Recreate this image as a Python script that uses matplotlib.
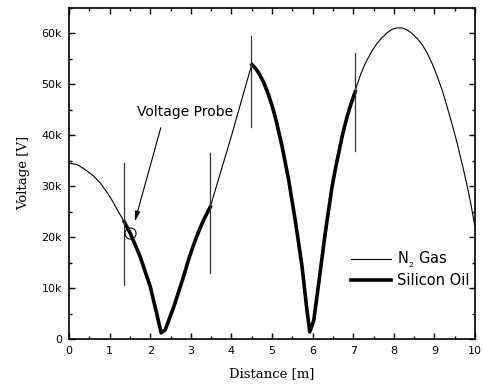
import numpy as np
import matplotlib
matplotlib.use("Agg")
import matplotlib.pyplot as plt
from matplotlib.ticker import MultipleLocator, FuncFormatter

plt.rcParams['font.family'] = ['DejaVu Sans']
plt.rcParams['mathtext.fontset'] = 'dejavusans'
plt.rcParams['mathtext.default'] = 'regular'

# N2 gas (thin) segments, values in kV
n2_x1 = [0.0, 0.2, 0.4, 0.6, 0.77, 0.95, 1.09, 1.22, 1.36]
n2_y1 = [34.5, 34.2, 33.2, 32.0, 30.6, 28.6, 26.8, 24.9, 23.0]
n2_x2 = [3.48, 4.0, 4.5]
n2_y2 = [25.9, 39.8, 53.8]
n2_x3 = [7.05, 7.08, 7.2, 7.30, 7.45, 7.59, 7.7, 7.83, 7.95, 8.08, 8.2, 8.33, 8.45, 8.57,
         8.7, 8.82, 8.95, 9.07, 9.2, 9.31, 9.45, 9.56, 9.7, 9.81, 9.9, 9.99]
n2_y3 = [48.5, 49.5, 52.2, 54.1, 56.3, 58.0, 59.0, 60.0, 60.7, 61.0, 61.0, 60.6, 59.9, 59.0,
         57.7, 56.1, 53.9, 51.5, 48.6, 45.6, 41.7, 38.4, 33.8, 29.9, 26.4, 22.4]

# Silicon oil (thick) segments, values in kV
oil_x1 = [1.36, 1.51, 1.75, 2.0, 2.16, 2.27, 2.37, 2.58, 2.82, 2.95, 3.07, 3.2, 3.32, 3.48]
oil_y1 = [23.0, 20.7, 16.2, 10.3, 5.0, 1.2, 1.8, 6.3, 12.2, 15.7, 18.5, 21.2, 23.4, 25.9]
oil_x2 = [4.505, 4.6, 4.7, 4.8, 4.9, 5.0, 5.1, 5.25, 5.41, 5.57, 5.74, 5.86, 5.93,
          6.03, 6.15, 6.31, 6.48, 6.56, 6.64, 6.75, 6.85, 6.95, 7.05]
oil_y2 = [53.8, 53.0, 51.8, 50.2, 48.2, 45.8, 42.9, 37.7, 31.2, 23.4, 14.2, 5.7, 1.4,
          3.7, 10.9, 20.7, 29.9, 33.3, 36.4, 40.5, 43.6, 46.2, 48.5]

# Probe markers (x, ymin, ymax) in kV
probe_x = [1.36, 3.47, 4.49, 7.04]
probe_lo = [10.5, 12.9, 41.5, 36.9]
probe_hi = [34.5, 36.4, 59.5, 56.1]

circle_xy = (1.5, 20.8)

fig = plt.figure(figsize=(4.85, 3.87), dpi=100)
ax = fig.add_axes([69/485, 1-339/387, (475-69)/485, (339-7.5)/387])

k = 1000
ax.plot(n2_x1, np.array(n2_y1)*k, color='black', lw=0.8, label=r'N$_{_2}$ Gas')
ax.plot(n2_x2, np.array(n2_y2)*k, color='black', lw=0.8)
ax.plot(n2_x3, np.array(n2_y3)*k, color='black', lw=0.8)
ax.plot(oil_x1, np.array(oil_y1)*k, color='black', lw=2.6, label='Silicon Oil',
        solid_joinstyle='round')
ax.plot(oil_x2, np.array(oil_y2)*k, color='black', lw=2.6, solid_joinstyle='round')

for px, lo, hi in zip(probe_x, probe_lo, probe_hi):
    ax.plot([px, px], [lo*k, hi*k], color='#333333', lw=0.9)

ax.plot([circle_xy[0]], [circle_xy[1]*k], marker='o', ms=8, mfc='none', mec='black', mew=0.8)

ax.annotate('', xy=(1.62, 23000), xytext=(2.26, 41400),
            arrowprops=dict(arrowstyle='-|>,head_width=0.15,head_length=0.6', color='black', lw=0.8,
                            shrinkA=0, shrinkB=0))
ax.text(2.87, 44550, 'Voltage Probe', fontsize=10, ha='center', va='center')

ax.set_xlim(0, 10)
ax.set_ylim(0, 65000)
ax.xaxis.set_major_locator(MultipleLocator(1))
ax.xaxis.set_minor_locator(MultipleLocator(0.5))
ax.yaxis.set_major_locator(MultipleLocator(10000))
ax.yaxis.set_minor_locator(MultipleLocator(5000))
ax.yaxis.set_major_formatter(FuncFormatter(lambda v, p: '0' if v == 0 else f'{int(v/1000)}k'))
ax.tick_params(which='both', direction='in', top=True, right=True, labelsize=8, width=1)
ax.tick_params(which='major', length=4, pad=5)
ax.tick_params(which='minor', length=2.5)
for s in ax.spines.values():
    s.set_linewidth(1.2)

ax.set_xlabel('Distance [m]', fontfamily='DejaVu Serif', fontsize=9.5, labelpad=8)
ax.set_ylabel('Voltage [V]', fontfamily='DejaVu Serif', fontsize=9.5, labelpad=8)

leg = ax.legend(loc='lower right', frameon=False, fontsize=10.5, handlelength=2.8,
                handletextpad=0.4, labelspacing=0.2, borderaxespad=0.1,
                bbox_to_anchor=(1.005, 0.131))

fig.savefig('out.png', dpi=100)
